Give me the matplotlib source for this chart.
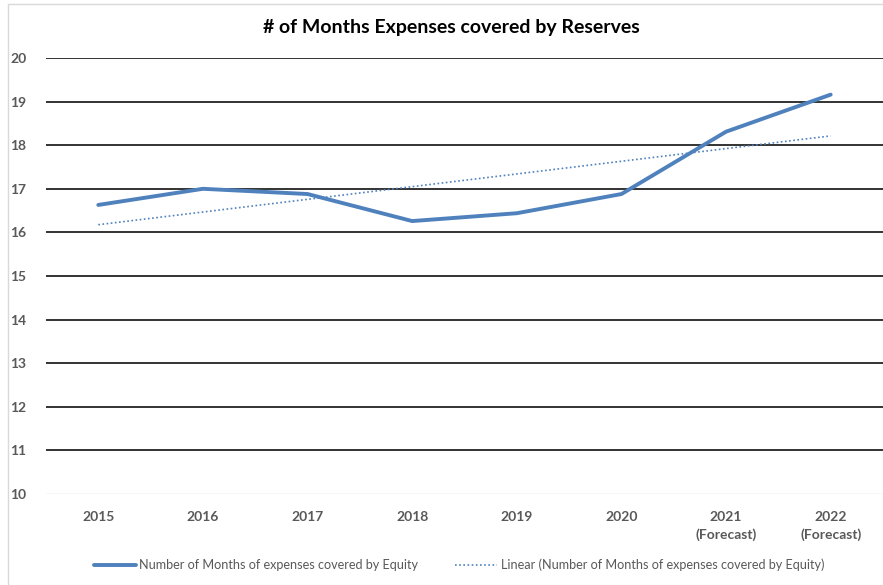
import matplotlib
matplotlib.use("Agg")
import matplotlib.pyplot as plt
import numpy as np
from matplotlib.patches import Rectangle

plt.rcParams['font.family'] = ['Lato', 'DejaVu Sans']

# Reserve coverage per year (months of expenses)
years = ['2015', '2016', '2017', '2018', '2019', '2020', '2021\n(Forecast)', '2022\n(Forecast)']
months_covered = [16.63, 17.00, 16.88, 16.26, 16.44, 16.88, 18.31, 19.16]

x = np.arange(len(years))
# linear trendline through the series
slope, intercept = np.polyfit(x, months_covered, 1)
trend = slope * x + intercept

fig = plt.figure(figsize=(8.83, 5.85), dpi=100)
ax = fig.add_axes([46 / 883, 1 - 494 / 585, 1 - 46 / 883, (494 - 58) / 585])

# outer chart border
fig.patches.append(Rectangle((8 / 883, -0.1), 1.2, 1 - 4 / 585 + 0.1, transform=fig.transFigure,
                             fill=False, edgecolor='#D9D9D9', linewidth=1.0))

ax.plot(x, months_covered, color='#4F81BD', linewidth=2.8, solid_capstyle='round',
        label='Number of Months of expenses covered by Equity')
ax.plot(x, trend, color='#4F81BD', linewidth=1.2, linestyle=(0, (1, 1.5)),
        label='Linear (Number of Months of expenses covered by Equity)')

ax.set_xlim(-0.5, len(years) - 0.5)
ax.set_ylim(10, 20)
ax.set_yticks(range(10, 21))
for yv in range(11, 21):
    ax.axhline(yv, color='#333333', linewidth=1.4, zorder=0)
ax.axhline(10, color='#D9D9D9', linewidth=1.0, zorder=0)

ax.set_xticks(x)
ax.set_xticklabels(years, linespacing=1.55)
for s in ax.spines.values():
    s.set_visible(False)
ax.tick_params(axis='both', length=0, labelsize=10, labelcolor='#595959')
ax.tick_params(axis='x', pad=12)
ax.tick_params(axis='y', pad=14)
for lbl in ax.get_xticklabels() + ax.get_yticklabels():
    lbl.set_fontweight('bold')

fig.text(451 / 883, 1 - 28 / 585, '# of Months Expenses covered by Reserves',
         ha='center', va='center', fontsize=14, fontweight='bold', color='black')

fig.legend(loc='center', bbox_to_anchor=(459 / 883, 1 - 565 / 585), ncol=2, frameon=False,
           fontsize=9.1, labelcolor='#595959', handlelength=3.3, handletextpad=0.3,
           columnspacing=2.9)

fig.savefig('out.png', dpi=100)
